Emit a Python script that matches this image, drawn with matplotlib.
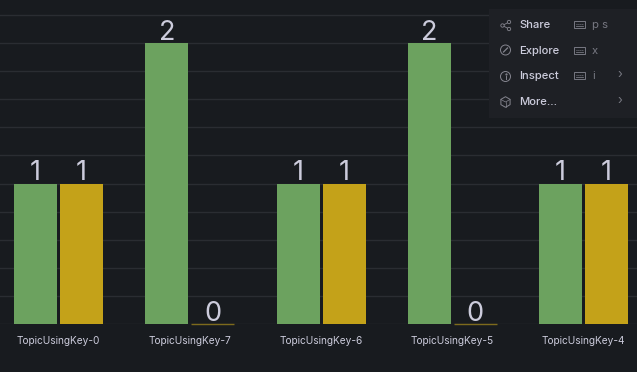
import matplotlib
matplotlib.use('Agg')
import matplotlib.pyplot as plt
from matplotlib.patches import Rectangle, Circle, RegularPolygon

# chart values
topics = ['TopicUsingKey-0', 'TopicUsingKey-7', 'TopicUsingKey-6', 'TopicUsingKey-5', 'TopicUsingKey-4']
green_vals = [1, 2, 1, 2, 1]
yellow_vals = [1, 0, 1, 0, 1]

# context menu
menu_items = ['Share', 'Explore', 'Inspect', 'More...']
menu_keys = ['p s', 'x', 'i', '']
menu_arrow = [False, False, True, True]

BG = '#181b1f'
GREEN = '#6ca25f'
YELLOW = '#c4a219'
TEXT = '#ccccdc'
GRID = '#2a2d32'
MENU = '#1e2025'

plt.rcParams['font.family'] = ['Inter', 'DejaVu Sans']

fig = plt.figure(figsize=(6.37, 3.72), dpi=100, facecolor=BG)
ax = fig.add_axes([0, 48 / 372, 1, 324 / 372], facecolor=BG)

pitch = 131.25
w = 43 / pitch
off = 23 / pitch
x = list(range(len(topics)))

b1 = ax.bar([i - off for i in x], green_vals, w, color=GREEN, zorder=2)
b2 = ax.bar([i + off for i in x], yellow_vals, w, color=YELLOW, zorder=2)
# the zero bars only show as a thin dark line
for rect, v in zip(b2, yellow_vals):
    if v == 0:
        rect.set_edgecolor('#7d6a1c')
        rect.set_linewidth(1)
        rect.set_clip_on(False)

ax.bar_label(b1, fontsize=19.5, color=TEXT, padding=-2)
ax.bar_label(b2, fontsize=19.5, color=TEXT, padding=-2)

ax.set_xlim(-58.5 / pitch, (637 - 58.5) / pitch)
ax.set_ylim(0, 324 / 140.5)
ax.set_yticks([i * 0.2 for i in range(12)])
ax.set_xticks(x)
ax.set_xticklabels(topics, fontsize=7.3, color=TEXT)
ax.tick_params(axis='x', length=0, pad=9)
ax.tick_params(axis='y', length=0, labelleft=False)
ax.grid(axis='y', color=GRID, linewidth=1, zorder=1)
for s in ax.spines.values():
    s.set_visible(False)

# menu overlay, in pixel coordinates
m = fig.add_axes([0, 0, 1, 1], facecolor='none')
m.set_xlim(0, 637)
m.set_ylim(372, 0)
m.axis('off')
m.add_patch(Rectangle((489, 9), 150, 109, facecolor=MENU, edgecolor='none'))

icon = '#85858f'
dim = '#777882'
rows = [25, 51, 76, 102]
for name, key, arrow, y in zip(menu_items, menu_keys, menu_arrow, rows):
    m.text(519.5, y, name, color=TEXT, fontsize=8.1, va='center', fontweight='medium')
    if key:
        m.add_patch(Rectangle((574, y - 4), 10.5, 7, fill=False, edgecolor=dim, linewidth=0.7))
        m.plot([576, 583], [y + 1, y + 1], color=dim, linewidth=0.6)
        m.plot([576, 583], [y - 1.5, y - 1.5], color=dim, linewidth=0.7, linestyle=(0, (1, 1)))
        m.text(592, y, key, color=dim, fontsize=8.1, va='center')
    if arrow:
        m.text(620, y - 1, '›', color=dim, fontsize=9, va='center', ha='center')

# share icon
m.plot([509, 502.5, 509], [22, 25.5, 29], color=icon, linewidth=0.6)
for cx, cy in [(509, 22), (502.5, 25.5), (509, 29)]:
    m.add_patch(Circle((cx, cy), 1.7, facecolor=MENU, edgecolor=icon, linewidth=0.6, zorder=3))
# explore icon
m.add_patch(Circle((505.5, 50), 5, fill=False, edgecolor=icon, linewidth=0.7))
m.plot([503.5, 507.5], [52, 48], color=icon, linewidth=0.9)
# inspect icon
m.add_patch(Circle((505.5, 76.5), 5, fill=False, edgecolor=icon, linewidth=0.7))
m.plot([505.5, 505.5], [76, 79], color=icon, linewidth=0.7)
m.plot([505.5], [74], marker='.', markersize=1.2, color=icon)
# more icon
m.add_patch(RegularPolygon((505.5, 102), 6, radius=5.3, fill=False, edgecolor=icon, linewidth=0.7))
m.plot([501, 505.5, 510], [99.5, 102, 99.5], color=icon, linewidth=0.5)
m.plot([505.5, 505.5], [102, 107], color=icon, linewidth=0.5)

fig.savefig('out.png', dpi=100, facecolor=BG)
